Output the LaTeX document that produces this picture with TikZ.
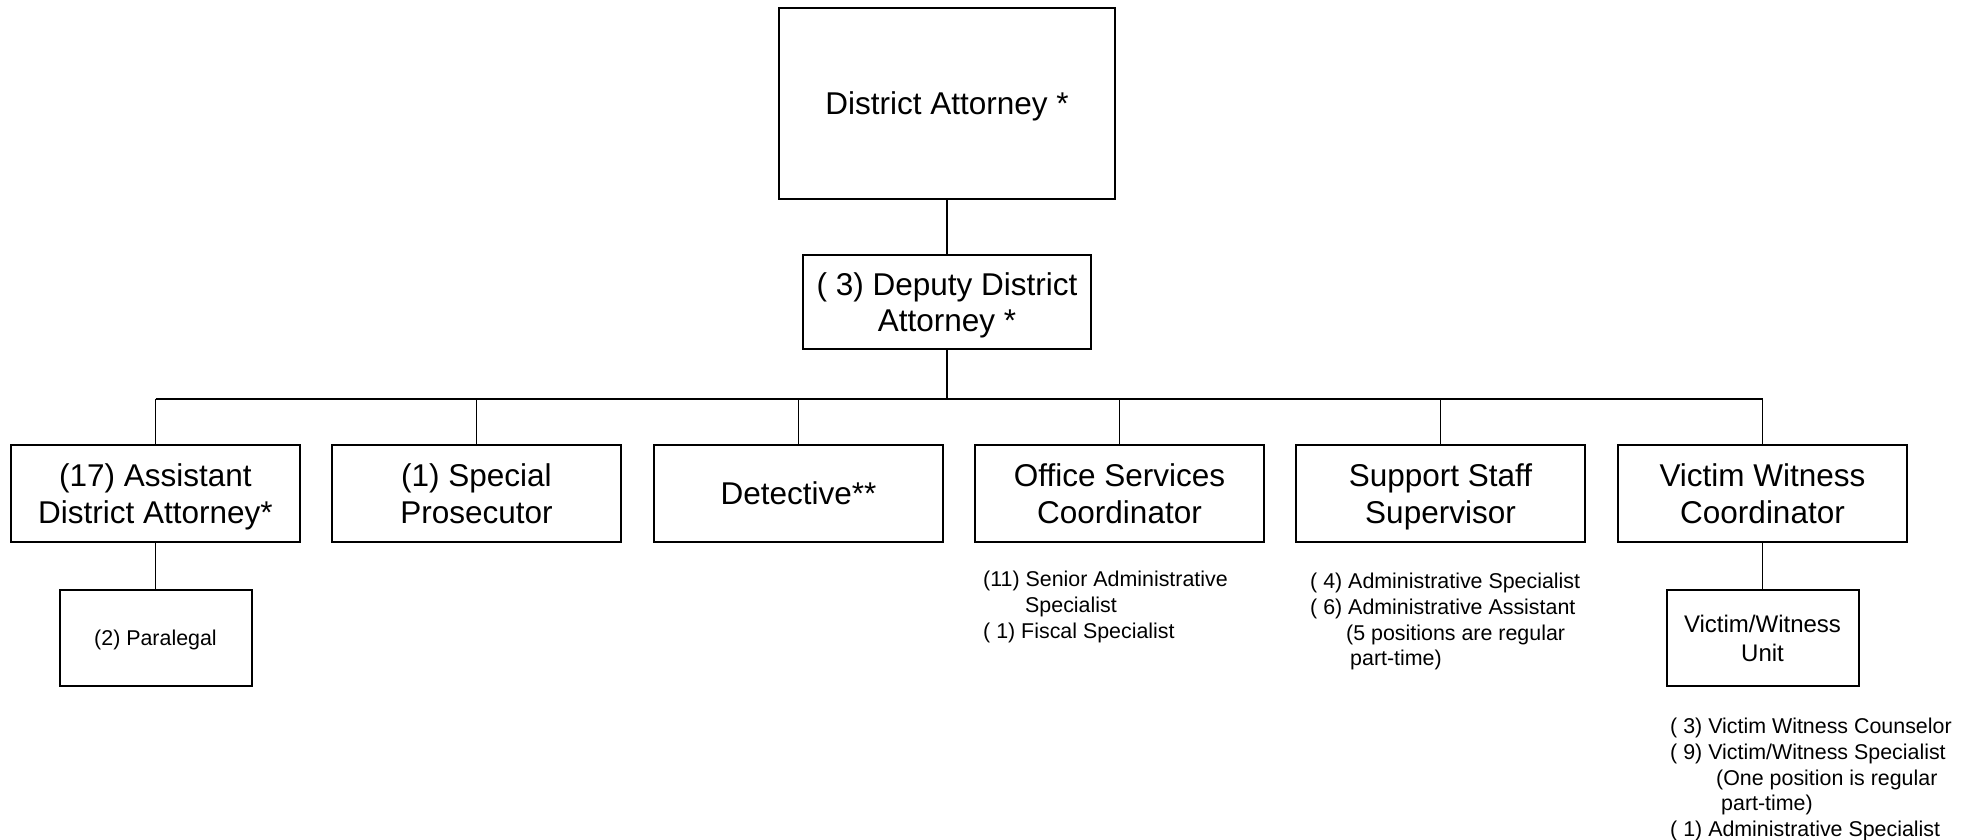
\documentclass[tikz,border=0pt]{standalone}
\usepackage{fontspec}
\setmainfont{Liberation Sans}
\begin{document}
\begin{tikzpicture}[x=1pt,y=-1pt,
  box/.style={draw=black,line width=2pt,align=center,inner sep=0pt,text depth=0pt,
    font=\fontsize{31.5}{36.5}\selectfont,minimum width=289pt,minimum height=97pt},
  smallbox/.style={draw=black,line width=2pt,align=center,inner sep=0pt,text depth=0pt,
    minimum width=192pt,minimum height=96pt},
  list/.style={anchor=north west,align=left,inner sep=0pt,
    font=\fontsize{21.4}{25.7}\selectfont},
  conn/.style={line width=1.8pt}]
\useasboundingbox (0,0) rectangle (1967,840);
\node[box,minimum width=336pt,minimum height=191pt] (da) at (947,103.5) {District Attorney *};
\node[box,minimum width=288pt,minimum height=94pt] (dep) at (947,302) {( 3) Deputy District\\Attorney *};
\node[box] (c1) at (155.5,493.5) {(17) Assistant\\District Attorney*};
\node[box] (c2) at (476.5,493.5) {(1) Special\\Prosecutor};
\node[box] (c3) at (798.5,493.5) {Detective**};
\node[box] (c4) at (1119.5,493.5) {Office Services\\Coordinator};
\node[box] (c5) at (1440.5,493.5) {Support Staff\\Supervisor};
\node[box] (c6) at (1762.5,493.5) {Victim Witness\\Coordinator};
\node[smallbox,font=\fontsize{21.4}{25}\selectfont] (para) at (155.5,638) {(2) Paralegal};
\node[smallbox,font=\fontsize{24}{29}\selectfont] (vwu) at (1762.5,638) {Victim/Witness\\Unit};
\node[list] (l4) at (983,571) {(11) Senior Administrative\\\hspace*{42pt}Specialist\\( 1) Fiscal Specialist};
\node[list] (l5) at (1310,573) {( 4) Administrative Specialist\\( 6) Administrative Assistant\\\hspace*{36pt}(5 positions are regular\\\hspace*{40pt}part-time)};
\node[list] (l6) at (1670,718) {( 3) Victim Witness Counselor\\( 9) Victim/Witness Specialist\\\hspace*{46pt}(One position is regular\\\hspace*{51pt}part-time)\\( 1) Administrative Specialist};
\coordinate (bus) at (0,399);
\draw[conn] (da.south) -- (dep.north);
\draw[conn] (dep.south) -- (dep.south |- bus);
\draw[conn] (c1.north |- bus) -- (c6.north |- bus);
\foreach \c in {c1,c2,c3,c4,c5,c6} \draw[conn] (\c.north) -- (\c.north |- bus);
\draw[conn] (c1.south) -- (para.north);
\draw[conn] (c6.south) -- (vwu.north);
\end{tikzpicture}
\end{document}
